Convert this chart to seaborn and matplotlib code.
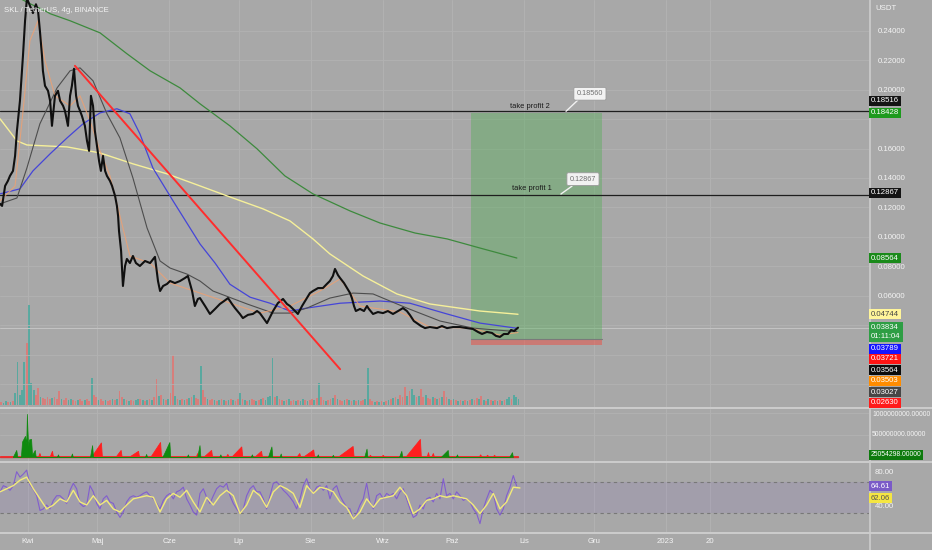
import numpy as np
import pandas as pd
import matplotlib
matplotlib.use("Agg")
import matplotlib.pyplot as plt
from matplotlib.lines import Line2D
import seaborn as sns

# ---------------------------------------------------------------- data
START = pd.Timestamp("2022-03-20 02:00")   # first candle on screen

# close path (day offset from START, price in USDT)
price_day = [0, 0.9, 2.2, 3.4, 4.3, 5.6, 6.5, 7.3, 8.6, 9.9,
             10.8, 11.6, 12.9, 14.2, 15.5, 16.4, 17.2, 18.1, 18.5, 19.4,
             20.7, 21.6, 22.4, 23.7, 25, 25.9, 27.2, 28, 29.3, 30.2,
             31, 31.9, 32.8, 33.6, 34.5, 35.3, 36.6, 37.5, 38.4, 39.2,
             40.1, 40.9, 41.8, 42.7, 43.5, 44.4, 45.3, 46.1, 47.4, 48.3,
             49.6, 50.4, 50.9, 51.3, 52.2, 52.6, 53, 53.9, 54.7, 56,
             57.3, 58.6, 60.3, 62.5, 64.7, 66.8, 68.1, 69, 70.3, 72,
             73.3, 75.4, 77.6, 79.7, 81, 82.8, 84, 85.3, 86.2, 88.4,
             90.5, 92.7, 94.8, 96.6, 98.3, 100, 101.3, 103.4, 104.7, 106.9,
             109, 110.8, 112, 113.8, 115.1, 116.4, 117.7, 119.8, 122, 123.7,
             125, 127.2, 128.4, 130.2, 132.3, 133.6, 134.9, 137.1, 139.2, 140.9,
             142.2, 143.5, 144.4, 145.7, 146.6, 148.3, 149.6, 150.9, 151.7, 152.6,
             153.4, 155.2, 156.9, 158.2, 159, 160.8, 162.9, 165.1, 167.2, 169.4,
             171.6, 173.7, 175.4, 176.7, 178.4, 179.7, 181.5, 183.2, 185.3, 188.4,
             190.5, 192.7, 195.3, 198.3, 201.3, 203.9, 206, 207.8, 209.9, 212.1,
             213.8, 215.5, 217.2, 219, 220.3, 221.6, 223.3]
price_val = [0.1224, 0.121, 0.1346, 0.138, 0.1414, 0.1448, 0.155, 0.172, 0.1924, 0.223,
             0.2468, 0.262, 0.257, 0.252, 0.258, 0.2536, 0.24, 0.223, 0.2128, 0.2026,
             0.1992, 0.1924, 0.1754, 0.1958, 0.1992, 0.1924, 0.189, 0.1856, 0.1754, 0.1958,
             0.2026, 0.2142, 0.1958, 0.189, 0.1856, 0.1822, 0.1754, 0.1652, 0.1584, 0.1958,
             0.189, 0.172, 0.1618, 0.1516, 0.1448, 0.155, 0.1448, 0.1414, 0.138, 0.1346,
             0.1278, 0.121, 0.1142, 0.104, 0.0904, 0.0782, 0.0666, 0.0802, 0.085, 0.0822,
             0.087, 0.0822, 0.0802, 0.0836, 0.0822, 0.0864, 0.07, 0.0632, 0.0666, 0.068,
             0.07, 0.0686, 0.07, 0.072, 0.0734, 0.0632, 0.053, 0.0578, 0.0584, 0.053,
             0.0476, 0.051, 0.0544, 0.0564, 0.0584, 0.0544, 0.0516, 0.0476, 0.0448, 0.047,
             0.0476, 0.0496, 0.0482, 0.0442, 0.0414, 0.0455, 0.0496, 0.055, 0.0578, 0.0544,
             0.053, 0.0496, 0.0476, 0.053, 0.0584, 0.0618, 0.0632, 0.0652, 0.0652, 0.068,
             0.07, 0.0734, 0.0782, 0.074, 0.072, 0.0686, 0.0652, 0.0618, 0.0584, 0.053,
             0.0496, 0.051, 0.0496, 0.053, 0.051, 0.0476, 0.0489, 0.0482, 0.0496, 0.0476,
             0.0496, 0.0516, 0.0496, 0.0469, 0.0428, 0.0414, 0.0394, 0.038, 0.0387, 0.038,
             0.0394, 0.038, 0.0387, 0.0387, 0.038, 0.0374, 0.0354, 0.034, 0.0354, 0.0347,
             0.0327, 0.032, 0.034, 0.034, 0.0367, 0.036, 0.0383]

# moving averages
green_day = [8.6, 12.9, 19.4, 21.6, 30.2, 43.1, 54.7, 64.7, 77.6, 86.2,
             99.1, 110.8, 122.8, 134.9, 150.9, 163.8, 178.9, 192.7, 206.9, 222.8]
green_val = [0.262, 0.2584, 0.2536, 0.2516, 0.2468, 0.2386, 0.2244, 0.2128, 0.2012, 0.1904,
             0.1754, 0.1598, 0.1414, 0.1292, 0.1176, 0.1094, 0.1026, 0.0986, 0.0924, 0.0856]
yellow_day = [0, 7.3, 11.6, 28.9, 43.1, 57.3, 72, 86.2, 99.1, 113.4,
              125, 134.9, 142.2, 156.5, 171.1, 185.3, 206.9, 223.3]
yellow_val = [0.1802, 0.1652, 0.1624, 0.1611, 0.157, 0.1496, 0.1428, 0.1346, 0.1271, 0.119,
              0.1108, 0.0986, 0.0884, 0.0734, 0.0612, 0.0544, 0.0496, 0.0474]
blue_day = [0, 8.6, 14.2, 21.6, 28.9, 35.8, 43.1, 50.4, 56, 60.3, 65.9, 74.6, 86.2,
            92.7, 99.1, 107.8, 116.4, 125, 132.3, 146.6, 163.8, 176.7, 192.7, 206.9, 222.8]
blue_val = [0.1292, 0.1326, 0.1448, 0.1564, 0.1672, 0.1768, 0.1842, 0.187, 0.1836, 0.17,
            0.1468, 0.1244, 0.0952, 0.0822, 0.0678, 0.059, 0.0549, 0.0496, 0.0516, 0.0549,
            0.0564, 0.0549, 0.0476, 0.0414, 0.0379]
gray_day = [0, 7.3, 11.6, 17.2, 24.6, 30.2, 34.5, 40.1, 46.1, 51.7, 57.3, 63.4, 69, 73.3,
            80.6, 86.2, 91.8, 106.5, 117.7, 125, 132.3, 142.2, 152.2, 160.8, 175.4, 189.7,
            203.9, 222.8]
gray_val = [0.1224, 0.1264, 0.1468, 0.1768, 0.2012, 0.2128, 0.2148, 0.206, 0.1836, 0.1672,
            0.14, 0.106, 0.0836, 0.0788, 0.0747, 0.07, 0.0632, 0.0544, 0.0482, 0.0482,
            0.0516, 0.0584, 0.0618, 0.0612, 0.0516, 0.0428, 0.038, 0.0356]
orange_day = [0, 6.5, 9.5, 12.9, 16.4, 19.4, 23.7, 30.2, 34.5, 38.8, 43.1, 47.4, 51.7, 56,
              64.7, 73.3, 86.2, 99.1, 112.1, 125, 137.9, 146.6, 155.2, 172.4, 185.3, 202.6,
              215.5, 223.3]
orange_val = [0.1244, 0.1346, 0.1788, 0.2332, 0.2468, 0.2196, 0.1958, 0.189, 0.1958, 0.1788,
              0.1584, 0.1414, 0.1142, 0.087, 0.0822, 0.0686, 0.0618, 0.055, 0.0482, 0.053,
              0.0632, 0.0714, 0.053, 0.0489, 0.0387, 0.038, 0.0333, 0.035]

# hand-drawn trend line (day, price)
trend_day = [32.3, 146.6]
trend_val = [0.2162, 0.0101]

# take-profit levels and long position tool
tp2_level, tp1_level = 0.18516, 0.12867
pos_target, pos_entry, pos_stop = 0.18428, 0.03027, 0.02630
pos_days = [203, 259.5]
last_price = 0.03834

# daily volume (arbitrary units) and candle direction per day (g = up, r = down)
volume = [3, 2, 4, 3, 3, 4, 12, 43, 10, 15, 43, 62, 100, 22, 15, 10, 17, 8, 7, 6,
          8, 6, 7, 8, 6, 14, 6, 5, 7, 5, 6, 5, 4, 5, 6, 4, 5, 6, 4, 27,
          10, 8, 5, 6, 4, 5, 4, 5, 6, 5, 6, 14, 8, 6, 5, 4, 5, 4, 5, 6,
          6, 5, 4, 5, 6, 5, 8, 26, 9, 10, 6, 5, 6, 12, 50, 9, 6, 5, 6, 5,
          6, 7, 8, 10, 7, 6, 39, 15, 8, 6, 5, 6, 5, 4, 5, 6, 5, 4, 5, 6,
          5, 4, 6, 12, 6, 5, 4, 5, 6, 5, 4, 5, 6, 7, 5, 8, 9, 47, 8, 9,
          6, 5, 4, 5, 6, 4, 5, 4, 5, 4, 6, 5, 4, 5, 6, 5, 7, 22, 8, 5,
          4, 5, 6, 7, 10, 6, 5, 4, 5, 6, 5, 4, 5, 4, 5, 4, 5, 6, 37, 6,
          4, 3, 4, 3, 4, 3, 4, 5, 6, 7, 8, 6, 10, 8, 18, 9, 14, 16, 10, 8,
          9, 16, 8, 10, 7, 6, 8, 7, 6, 7, 8, 14, 8, 6, 5, 6, 5, 4, 5, 4,
          5, 4, 5, 6, 5, 7, 6, 9, 5, 4, 6, 5, 4, 5, 4, 5, 4, 5, 6, 8,
          6, 10, 8, 6]
vol_dir = ("rggrgrgggg" "grgggrrgrr" "rrgrrrgrrg" "grrgrrgrrg" "rrgrrgrrgr"
           "grrgrgrrgg" "rgrgrgrrgr" "grgrrgrgrg" "rgrgrrgrrg" "rrgrgrgrgr"
           "grrgrgrgrr" "grgrggggrg" "rrgrgrrgrg" "grgrrgrgrr" "grrgrgrrgr"
           "grgrgrrggr" "rgrgrgrgrg" "rgrrrgrggr" "grrgrrgrgr" "grrgrgrgrg"
           "rgrgrrgrgr" "grgrgrgrgg" "rggg")

# second pane: buying (green) / selling (red) pressure, units of 1e8
flow_g_day = [5.5, 7, 7.5, 9, 9.5, 10.8, 11.3, 11.6, 12.1, 12.5, 13.4, 13.8, 15, 15.4,
              24.5, 25, 25.4, 30.5, 31, 31.4, 38.8, 39.7, 40.1, 62.5, 63, 63.4,
              70, 73, 73.4, 80.5, 81, 81.4, 85, 86, 86.4, 94.5, 95, 95.4,
              108, 108.6, 109, 115.5, 117, 117.4, 120.5, 121, 121.4, 136.5, 137, 137.4,
              143, 143.5, 143.9, 157, 158, 158.4, 172, 173, 173.4, 190, 193, 193.4,
              196.5, 197, 197.4, 219.5, 220.7, 221.1]
flow_g_val = [0, 1.6, 0, 0, 3.5, 4.8, 3.0, 9.8, 2.5, 4.0, 4.1, 0.5, 1.6, 0,
              0, 0.6, 0, 0, 0.8, 0, 0, 2.7, 0, 0, 0.7, 0,
              0, 3.4, 0, 0, 0.6, 0, 0, 2.7, 0, 0, 0.6, 0,
              0, 0.6, 0, 0, 2.4, 0, 0, 0.8, 0, 0, 0.6, 0,
              0, 0.5, 0, 0, 1.9, 0, 0, 1.4, 0, 0, 1.6, 0,
              0, 0.6, 0, 0, 1.1, 0]
flow_r_day = [0, 16.5, 17, 17.4, 21.5, 22.4, 22.8, 39.5, 43.5, 43.9, 50, 52, 52.4,
              56, 59.5, 59.9, 65, 69, 69.4, 84.5, 85, 85.4, 88, 91, 91.4,
              97.5, 98, 98.4, 100, 104, 104.4, 110, 112.5, 112.9, 128, 129, 129.4,
              131, 135, 135.4, 146, 152, 152.4, 159, 159.5, 159.9, 164.5, 165, 165.4,
              175, 181, 181.4, 184, 184.5, 184.9, 186, 186.6, 187, 206.5, 207, 207.4,
              209.5, 210, 210.4, 212.5, 213, 213.4, 223.3]
flow_r_val = [0.2, 0.2, 0.9, 0.2, 0.2, 1.4, 0.2, 0.2, 3.3, 0.2, 0.2, 1.6, 0.2,
              0.2, 1.4, 0.2, 0.2, 3.4, 0.2, 0.2, 0.9, 0.2, 0.2, 1.6, 0.2,
              0.2, 0.7, 0.2, 0.2, 2.4, 0.2, 0.2, 1.4, 0.2, 0.2, 0.9, 0.2,
              0.2, 1.7, 0.2, 0.2, 2.5, 0.2, 0.2, 0.5, 0.2, 0.2, 0.5, 0.2,
              0.2, 4.1, 0.2, 0.2, 1.1, 0.2, 0.2, 0.9, 0.2, 0.2, 0.6, 0.2,
              0.2, 0.5, 0.2, 0.2, 0.5, 0.2, 0.2]

# RSI (sampled every 1.4368 days) and its moving average (every 2.8736 days)
rsi_step, rsi_ma_step = 1.4368, 2.8736
rsi = [57, 65, 63, 59, 65, 83, 76, 80, 85, 66, 60, 52, 33, 35, 40, 35, 46, 52, 52, 48,
       42, 59, 68, 61, 42, 38, 40, 65, 57, 42, 35, 48, 52, 44, 42, 31, 24, 31, 44, 50,
       52, 50, 52, 55, 57, 52, 48, 42, 35, 46, 52, 55, 48, 57, 59, 63, 48, 40, 31, 27,
       55, 61, 50, 42, 52, 61, 65, 63, 68, 52, 42, 35, 29, 35, 52, 61, 65, 57,
       57, 48, 35, 52, 68, 70, 65, 59, 55, 50, 44, 35, 48, 65, 74, 61, 55, 63, 65, 59,
       65, 48, 61, 65, 52, 44, 37, 35, 22, 29, 40, 48, 68, 44, 35, 52, 55, 48, 55, 52,
       55, 48, 57, 61, 48, 35, 24, 27, 40, 35, 48, 50, 44, 55, 48, 74, 52, 55, 48, 57,
       52, 46, 48, 44, 35, 29, 16, 35, 48, 59, 55, 35, 27, 35, 52, 63, 78, 64.6]
rsi_ma = [57, 61, 65, 72, 76, 61, 48, 35, 40, 48, 44, 59, 44, 40, 52, 40, 46, 35, 31, 40,
          48, 50, 52, 50, 31, 48, 55, 50, 59, 44, 31, 50, 40, 52, 59, 52, 29, 40, 59,
          52, 37, 57, 65, 61, 55, 37, 65, 55, 63, 61, 57, 44, 37, 22, 31, 48, 37, 48, 50,
          52, 63, 52, 29, 35, 46, 48, 52, 50, 52, 50, 48, 40, 29, 40, 55, 35, 44, 63, 62]

# axis texts
title = "SKL / TetherUS, 4g, BINANCE"
price_ticks = [0.06, 0.08, 0.10, 0.12, 0.14, 0.16, 0.20, 0.22, 0.24]
grid_levels = [0.0, 0.02, 0.04, 0.06, 0.08, 0.10, 0.12, 0.14, 0.16, 0.18, 0.20, 0.22, 0.24]
tick_dates = ["2022-04-01", "2022-05-01", "2022-06-01", "2022-07-01", "2022-08-01",
              "2022-09-01", "2022-10-01", "2022-11-01", "2022-12-01", "2023-01-01", "2023-01-20"]
tick_names = ["Kwi", "Maj", "Cze", "Lip", "Sie", "Wrz", "Paź", "Lis", "Gru", "2023", "20"]
label_texts = ["0.18516", "0.18428", "0.12867", "0.08564", "0.04744", "0.03834\n01:11:04",
               "0.03789", "0.03721", "0.03564", "0.03503", "0.03027", "0.02630"]
label_bg = ["#141414", "#1d9a1d", "#141414", "#1a8a1a", "#fff59a", "#2e9e44",
            "#1414ff", "#ff1414", "#0c0c0c", "#ff8c00", "#474747", "#ff1a1a"]
label_fg = ["white", "white", "white", "white", "#444444", "white",
            "white", "white", "white", "white", "white", "white"]

# ---------------------------------------------------------------- style
sns.set_theme(style="dark")
plt.rcParams["font.family"] = ["Liberation Sans Narrow", "Liberation Sans", "DejaVu Sans"]

W, H = 932, 550
BG = "#a8a8a8"
GRID = "#b2b2b2"
SEP = "#cdcdcd"
TXT = "#f4f4f4"
FS = 5.6


def D(days):
    return START + pd.to_timedelta(np.asarray(days, dtype=float), unit="D")


def rect(x0, y0, x1, y1):
    return [x0 / W, 1 - y1 / H, (x1 - x0) / W, (y1 - y0) / H]


fig = plt.figure(figsize=(9.32, 5.5), dpi=100)
fig.patch.set_facecolor(BG)

ax_vol = fig.add_axes(rect(0, 0, 869, 407))
ax = fig.add_axes(rect(0, 0, 869, 407), sharex=ax_vol)
ax_flow = fig.add_axes(rect(0, 409, 869, 461), sharex=ax_vol)
ax_rsi = fig.add_axes(rect(0, 462, 869, 532), sharex=ax_vol)

for a in (ax_vol, ax_flow, ax_rsi):
    a.set_facecolor(BG)
ax.set_facecolor("none")
for a in (ax_vol, ax, ax_flow, ax_rsi):
    for s in a.spines.values():
        s.set_visible(False)
    a.grid(False)

x0, x1 = START, START + pd.Timedelta(days=374.6)
tick_ts = pd.to_datetime(tick_dates)

# ---- volume underlay
n = min(len(volume), len(vol_dir))
vcol = ["#3fa89c" if c == "g" else "#e8706c" for c in vol_dir[:n]]
ax_vol.bar(D(np.arange(n) + 0.5), volume[:n], width=0.75, color=vcol, alpha=0.75, lw=0)
ax_vol.set_ylim(-2, 405)
ax_vol.set_yticks([])
for t in tick_ts:
    ax_vol.axvline(t, color=GRID, lw=0.7, zorder=0)

# ---- main price pane
ax.set_ylim(-0.0156, 0.2609)
for v in grid_levels:
    ax.axhline(v, color=GRID, lw=0.6, zorder=0)
ax.axhline(last_price, color="#c4c4c4", lw=0.7, zorder=0.5)

ax.fill_between(D(pos_days), pos_entry, pos_target, color="#4caf50", alpha=0.38, lw=0, zorder=1)
ax.fill_between(D(pos_days), pos_stop, pos_entry, color="#f44336", alpha=0.45, lw=0, zorder=1)
ax.plot(D(pos_days), [pos_entry, pos_entry], color="#7a7a7a", lw=0.8, zorder=1.2)

ax.axhline(tp2_level, color="#1e1e1e", lw=0.9, zorder=2)
ax.axhline(tp1_level, color="#1e1e1e", lw=0.9, zorder=2)

line_kw = dict(ax=ax, estimator=None, sort=False, legend=False)
sns.lineplot(x=D(green_day), y=green_val, color="#3d8a3d", linewidth=0.9, zorder=3, **line_kw)
sns.lineplot(x=D(yellow_day), y=yellow_val, color="#f6f09a", linewidth=1.0, zorder=3, **line_kw)
sns.lineplot(x=D(blue_day), y=blue_val, color="#4545d8", linewidth=0.9, zorder=3, **line_kw)
sns.lineplot(x=D(gray_day), y=gray_val, color="#4d4d4d", linewidth=0.8, zorder=3, **line_kw)
sns.lineplot(x=D(orange_day), y=orange_val, color="#f0a070", linewidth=0.8, alpha=0.8, zorder=3, **line_kw)
sns.lineplot(x=D(price_day), y=price_val, color="#101010", linewidth=1.5, zorder=4, **line_kw)
sns.lineplot(x=D(trend_day), y=trend_val, color="#ff2d2d", linewidth=1.4, zorder=5, **line_kw)

ax.text(D([228.4])[0], 0.1888, "take profit 2", fontsize=5.4, color="#1a1a1a",
        ha="center", va="center", zorder=6)
ax.text(D([229.3])[0], 0.1331, "take profit 1", fontsize=5.4, color="#1a1a1a",
        ha="center", va="center", zorder=6)
box = dict(boxstyle="round,pad=0.4,rounding_size=0.2", fc="#f2f2f2", ec="#9a9a9a", lw=0.6)
ax.plot(D([249.1, 244.0]), [0.1929, 0.1853], color="#f2f2f2", lw=1.0, zorder=6)
ax.plot(D([246.6, 241.8]), [0.1345, 0.1291], color="#f2f2f2", lw=1.0, zorder=6)
ax.text(D([254.3])[0], 0.1972, "0.18560", fontsize=5.2, color="#707070", ha="center",
        va="center", bbox=box, zorder=7)
ax.text(D([251.3])[0], 0.1392, "0.12867", fontsize=5.2, color="#707070", ha="center",
        va="center", bbox=box, zorder=7)

ax.yaxis.tick_right()
ax.set_yticks(price_ticks)
ax.set_yticklabels([f"{v:.5f}" for v in price_ticks])
ax.tick_params(axis="y", length=0, pad=6, labelsize=FS, labelcolor=TXT)
ax.tick_params(axis="x", length=0, labelbottom=False)
ax_vol.tick_params(axis="x", length=0, labelbottom=False)
ax.set_xlabel("")
ax.set_ylabel("")

# ---- buying / selling pressure pane
ax_flow.set_ylim(-0.91, 10.91)
for v in (5, 10):
    ax_flow.axhline(v, color=GRID, lw=0.6, zorder=0)
for t in tick_ts:
    ax_flow.axvline(t, color=GRID, lw=0.7, zorder=0)
ax_flow.fill_between(D(flow_r_day), 0, flow_r_val, color="#ff1f1f", lw=0.6, edgecolor="#ff1f1f", zorder=2)
ax_flow.fill_between(D(flow_g_day), 0, flow_g_val, color="#0f8a0f", lw=0.5, edgecolor="#0f8a0f", zorder=3)
ax_flow.plot(D([0, 223.3]), [0.1, 0.1], color="#e03030", lw=1.0, zorder=2)
ax_flow.set_yticks([])
ax_flow.tick_params(axis="x", length=0, labelbottom=False)

# ---- RSI pane
ax_rsi.set_ylim(5.2, 95.5)
for t in tick_ts:
    ax_rsi.axvline(t, color=GRID, lw=0.7, zorder=0)
ax_rsi.axhspan(30, 70, color="#7e57c2", alpha=0.12, lw=0, zorder=0.5)
ax_rsi.axhline(70, color="#787878", lw=0.8, ls=(0, (3, 3)), zorder=1)
ax_rsi.axhline(30, color="#787878", lw=0.8, ls=(0, (3, 3)), zorder=1)
rsi_x = D(np.arange(len(rsi)) * rsi_step)
rsi_ma_x = D(np.arange(len(rsi_ma)) * rsi_ma_step)
sns.lineplot(x=rsi_x, y=rsi, ax=ax_rsi, color="#7e57d2", linewidth=0.8, alpha=0.9,
             estimator=None, sort=False, legend=False, zorder=2)
sns.lineplot(x=rsi_ma_x, y=rsi_ma, ax=ax_rsi, color="#f2ea7a", linewidth=1.0,
             estimator=None, sort=False, legend=False, zorder=3)
ax_rsi.set_yticks([])
ax_rsi.set_xlabel("")
ax_rsi.set_ylabel("")

ax_vol.set_xlim(x0, x1)
ax_rsi.set_xticks(tick_ts)
ax_rsi.set_xticklabels(tick_names)
ax_rsi.tick_params(axis="x", length=0, pad=4, labelsize=FS, labelcolor=TXT, labelbottom=True)

# ---- separators
for yp in (408, 461.5, 532.5):
    fig.add_artist(Line2D([0, 1], [1 - yp / H] * 2, color=SEP, lw=1.4, transform=fig.transFigure))
fig.add_artist(Line2D([869.5 / W] * 2, [0, 1], color=SEP, lw=1.2, transform=fig.transFigure))

# ---- texts on the right scale
def ftext(xp, yp, s, size=FS, **kw):
    fig.text(xp / W, 1 - yp / H, s, va="center", ha="left", fontsize=size, **kw)

ftext(4, 11, title, color=TXT)
ftext(875, 9, "USDT", color=TXT)

label_y = [101, 113, 193, 258, 314, 332, 349, 359, 370, 381, 392, 403]
for s, bg, fg, yp in zip(label_texts, label_bg, label_fg, label_y):
    ftext(871, yp, s, color=fg, linespacing=1.3,
          bbox=dict(boxstyle="square,pad=0.25", fc=bg, ec="none"))

ftext(872, 414, "1000000000.00000", size=4.9, color=TXT)
ftext(872, 435, "500000000.00000", size=4.9, color=TXT)
ftext(871, 455, "25054298.00000", size=4.9, color="white",
      bbox=dict(boxstyle="square,pad=0.25", fc="#0d7a0d", ec="none"))
ftext(875, 473, "80.00", color=TXT)
ftext(875, 507, "40.00", color=TXT)
ftext(871, 486, "64.61", color="white",
      bbox=dict(boxstyle="square,pad=0.25", fc="#7a5ac8", ec="none"))
ftext(871, 498, "62.06", color="#555555",
      bbox=dict(boxstyle="square,pad=0.25", fc="#f5e642", ec="none"))

fig.savefig("out.png", dpi=100, facecolor=BG)
